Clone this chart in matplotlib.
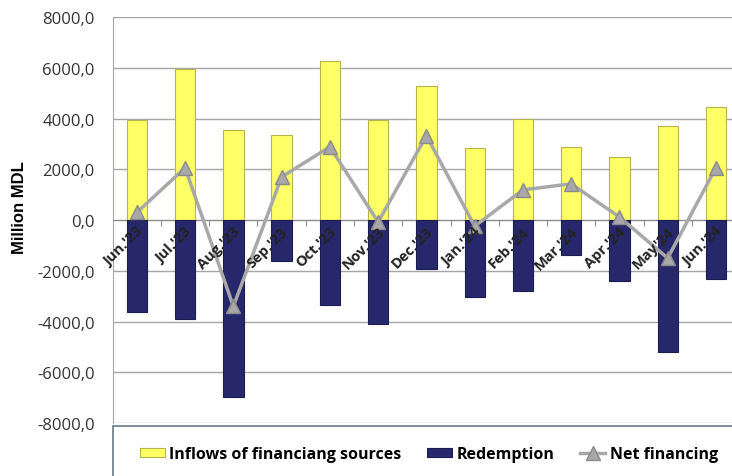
import matplotlib.pyplot as plt
import matplotlib.patches as mpatches
import numpy as np

months = ["Jun.'23", "Jul.'23", "Aug.'23", "Sep.'23", "Oct.'23", "Nov.'23", "Dec.'23",
          "Jan.'24", "Feb.'24", "Mar.'24", "Apr.'24", "May'24", "Jun.'24"]
inflows = [3950, 5940, 3560, 3370, 6260, 3960, 5270, 2850, 4000, 2870, 2500, 3720, 4440]
redemption = [-3640, -3880, -6970, -1620, -3330, -4080, -1940, -3050, -2810, -1390, -2420, -5190, -2340]
net = [300, 2060, -3400, 1700, 2890, -80, 3330, -240, 1190, 1430, 120, -1500, 2060]

x = np.arange(len(months))

fig = plt.figure(figsize=(7.32, 4.77), dpi=100)
ax = fig.add_axes([0.154, 0.111, 0.857, 0.851])

b1 = ax.bar(x, inflows, width=0.42, color='#ffff66', edgecolor='#b5b54a', linewidth=0.8,
            label='Inflows of financiang sources', zorder=3)
b2 = ax.bar(x, redemption, width=0.42, color='#26286b', edgecolor='#1b1c50', linewidth=0.8,
            label='Redemption', zorder=3)
l1, = ax.plot(x, net, color='#a8a8a8', linewidth=2.5, marker='^', markersize=10,
              markerfacecolor='#a8a8a8', markeredgecolor='#8a8a8a', label='Net financing', zorder=4)

ax.set_xlim(-0.5, 12.5)
ax.set_ylim(-8000, 8000)
ax.set_yticks(np.arange(-8000, 8001, 2000))
ax.set_yticklabels([f'{v:.1f}'.replace('.', ',') for v in np.arange(-8000, 8001, 2000)],
                   fontsize=12, fontfamily='Open Sans', color='#333333')
ax.grid(axis='y', color='#a6a6a6', linewidth=1, zorder=0)
ax.tick_params(axis='y', length=0, pad=13)

ax.spines['bottom'].set_position(('data', 0))
ax.spines['bottom'].set_color('#8c8c8c')
ax.spines['left'].set_color('#a6a6a6')
ax.spines['top'].set_visible(False)
ax.spines['right'].set_visible(False)
ax.set_xticks(x + 0.5)
ax.set_xticklabels([])
ax.tick_params(axis='x', length=4, color='#8c8c8c', direction='out')
for xi, m in zip(x, months):
    ax.text(xi - 0.02, -150, m, rotation=45, ha='right', va='top', fontsize=10.5,
            fontweight='bold', fontfamily='Open Sans', color='#222222', zorder=5,
            rotation_mode='anchor')

fig.text(0.026, 0.565, 'Million MDL', rotation=90, ha='center', va='center',
         fontsize=12, fontweight='bold', fontfamily='Liberation Sans')

box = mpatches.Rectangle((0.154, -0.05), 0.9, 0.155, transform=fig.transFigure,
                         facecolor='white', edgecolor='#6a7a8a', linewidth=1.2)
fig.patches.append(box)
fig.legend([b1, b2, l1], ['Inflows of financiang sources', 'Redemption', 'Net financing'],
           loc='center', bbox_to_anchor=(0.586, 0.046), ncol=3, frameon=False,
           prop={'family': 'Open Sans', 'weight': 'bold', 'size': 11.5},
           handlelength=1.55, handleheight=0.5, columnspacing=1.6, handletextpad=0.3)

plt.savefig('out.png', dpi=100)
